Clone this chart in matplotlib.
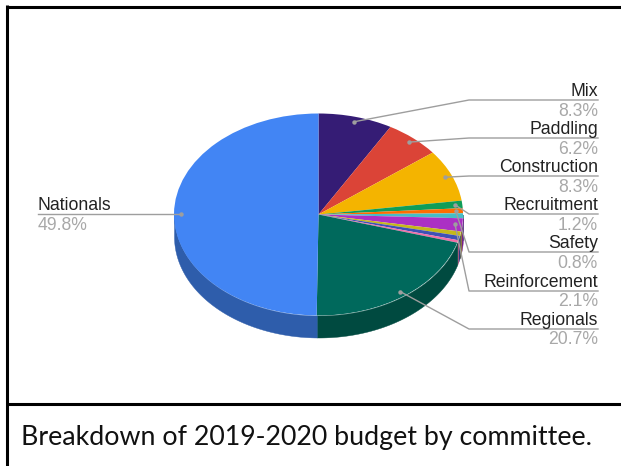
#!/usr/bin/env python3
"""Pseudo-3D pie of the 2019-2020 budget, with leader lines and a framed caption."""

import numpy as np
import matplotlib
matplotlib.use("Agg")
import matplotlib.pyplot as plt

W, H = 621, 466
CX, CY, RX, RY, DEPTH = 318.5, 214.5, 144.5, 101, 22

# clockwise from 12 o'clock
shares = [8.3, 6.2, 8.3, 1.2, 0.8, 0.8, 2.1, 0.7, 0.7, 0.4, 20.7, 49.8]
colors = ["#351c75", "#db4437", "#f4b400", "#0f9d58", "#ff6d00", "#46bdc6",
          "#ab30c4", "#c5b81a", "#3f51b5", "#f06fa8", "#00695c", "#4285f4"]
sides = ["#25144f", "#99302a", "#ab7e00", "#0a6e3e", "#b34d00", "#31848b",
         "#782289", "#8a8112", "#2c397f", "#a84e76", "#004a40", "#2e5dab"]

label_names = ["Mix", "Paddling", "Construction", "Recruitment", "Safety", "Reinforcement", "Regionals"]
label_pcts = ["8.3%", "6.2%", "8.3%", "1.2%", "0.8%", "2.1%", "20.7%"]
label_slices = [0, 1, 2, 3, 4, 6, 10]
label_lines = [100, 138, 176, 214, 252, 291, 329]


def px(x, y):
    # picture pixels to pie units
    return (x - CX) / RX, (CY - y) / RY


plt.rcParams["font.family"] = ["Liberation Sans", "DejaVu Sans"]
fig = plt.figure(figsize=(W / 100, H / 100), dpi=100)
ax = fig.add_axes([0, 0, 1, 1])

# side wall first, only the front half of the rim shows
edges = np.cumsum([0] + shares) / 100 * 2 * np.pi
d = DEPTH / RY
for start, end, col in zip(edges[:-1], edges[1:], sides):
    lo, hi = max(start, np.pi / 2), min(end, 3 * np.pi / 2)
    if hi <= lo:
        continue
    th = np.linspace(lo, hi, 80)
    ax.fill_between(np.sin(th), np.cos(th), np.cos(th) - d, color=col, linewidth=0.3, zorder=1)

wedges, _ = ax.pie(shares, colors=colors, startangle=90, counterclock=False,
                   wedgeprops={"linewidth": 0})
for w in wedges:
    w.set_zorder(2)

ax.set_aspect("auto")
ax.set_xlim(px(0, 0)[0], px(W, 0)[0])
ax.set_ylim(px(0, H)[1], px(0, 0)[1])
ax.axis("off")

GREY = "#9e9e9e"
NAME = "#222222"
PCT = "#a8a8a8"
FS = 12.7
mids = (edges[:-1] + edges[1:]) / 2


def dot(i):
    return 0.95 * np.sin(mids[i]), 0.95 * np.cos(mids[i])


for name, pct, i, yl in zip(label_names, label_pcts, label_slices, label_lines):
    x0, y0 = dot(i)
    xs = [x0, px(469, 0)[0], px(598, 0)[0]]
    ys = [y0, px(0, yl)[1], px(0, yl)[1]]
    ax.plot(xs, ys, color=GREY, lw=1, zorder=3)
    ax.plot(x0, y0, "o", color=GREY, ms=3.2, mew=0, zorder=4)
    ax.text(*px(598, yl - 8.5), name, ha="right", va="center", fontsize=FS, color=NAME)
    ax.text(*px(598, yl + 11), pct, ha="right", va="center", fontsize=FS, color=PCT)

# Nationals sits on the left
x0, y0 = dot(11)
ax.plot([x0, px(38, 0)[0]], [y0, y0], color=GREY, lw=1, zorder=3)
ax.plot(x0, y0, "o", color=GREY, ms=3.2, mew=0, zorder=4)
ax.text(*px(38, 205.5), "Nationals", ha="left", va="center", fontsize=FS, color=NAME)
ax.text(*px(38, 225.5), "49.8%", ha="left", va="center", fontsize=FS, color=PCT)

# frame and caption, the right side stays open
for xa, ya, xb, yb in [(6, 6.5, W, 6.5), (7, 5, 7, H), (7, 403.5, W, 403.5)]:
    (x1, y1), (x2, y2) = px(xa, ya), px(xb, yb)
    ax.plot([x1, x2], [y1, y2], color="black", lw=2.2, zorder=5, solid_capstyle="butt", clip_on=False)

ax.text(*px(21, 438), "Breakdown of 2019-2020 budget by committee.", ha="left", va="center",
        fontsize=19.3, color="#111111", family=["Lato", "DejaVu Sans"])

fig.savefig("out.png", dpi=100)
